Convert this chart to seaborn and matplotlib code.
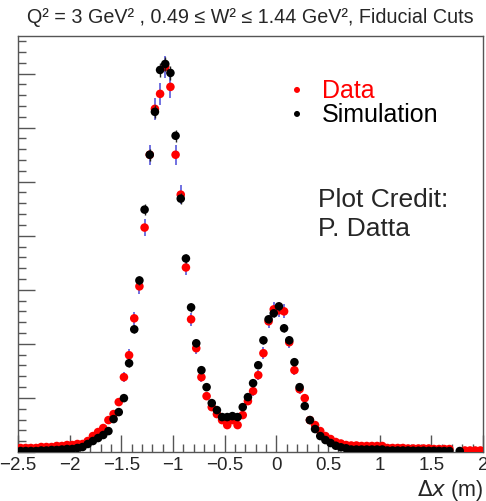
import numpy as np
import pandas as pd
import matplotlib
matplotlib.use("Agg")
import matplotlib.pyplot as plt
import seaborn as sns
from matplotlib.ticker import MultipleLocator, FuncFormatter

# Delta-x histogram, 0.05 m bins from -2.5 to 2.0 m (bin centres)
bin_centers = np.round(-2.475 + 0.05 * np.arange(90), 3)

# counts (arbitrary units, nan = empty bin)
nan = np.nan
data_counts = [
    74, 74, 74, 74, 92, 92, 92, 111, 111, 129,
    129, 148, 148, 203, 295, 369, 443, 590, 701, 923,
    1384, 1790, 2472, 3063, 4151, 5498, 6347, 6624, 7122, 6753,
    5498, 4760, 3413, 2454, 1919, 1384, 1033, 830, 701, 590,
    498, 590, 498, 683, 941, 1125, 1421, 1827, 2417, 2638,
    2620, 2601, 2030, 1513, 1162, 996, 590, 498, 387, 295,
    240, 185, 157, 129, 120, 120, 111, 111, 111, 111,
    111, 74, 74, 74, 74, 65, 65, 65, 65, 65,
    55, 55, 55, 55, nan, nan, 28, 28, 28, 28,
]
sim_counts = [
    18, 18, 18, 18, 28, 28, 37, 37, 46, 55,
    55, 74, 92, 148, 203, 258, 314, 387, 609, 738,
    996, 1642, 2269, 3173, 4483, 5498, 6291, 7066, 7177, 7011,
    5849, 4686, 3579, 2675, 2011, 1513, 1199, 904, 775, 646,
    646, 664, 646, 830, 1015, 1273, 1605, 2066, 2454, 2565,
    2694, 2288, 2066, 1661, 1199, 849, 590, 424, 295, 221,
    166, 116, 87, 68, 46, 46, 46, 46, 46, 46,
    46, 28, 28, 28, 28, 28, 24, 24, 24, 22,
    22, 20, 18, 18, nan, 18, nan, nan, nan, nan,
]

df = pd.DataFrame({"dx": bin_centers, "Data": data_counts, "Simulation": sim_counts})
# statistical error bars (scaled Poisson)
df["data_err"] = 2.5 * np.sqrt(df["Data"])
df["sim_err"] = 1.5 * np.sqrt(df["Simulation"])

sns.set_style("ticks")
plt.rcParams['font.family'] = ['Liberation Sans', 'DejaVu Sans']
plt.rcParams['mathtext.fontset'] = 'dejavusans'

fig = plt.figure(figsize=(4.86, 5.02), dpi=100)
ax = fig.add_axes([18 / 486, 49 / 502, 465 / 486, 416 / 502])

ax.errorbar(df["dx"], df["Data"], yerr=df["data_err"], fmt='none',
            ecolor='#4a4ad8', elinewidth=1.1, zorder=2)
sns.scatterplot(data=df, x="dx", y="Data", color='#ff0000', s=38,
                edgecolor='none', ax=ax, zorder=3, label='Data')
ax.errorbar(df["dx"], df["Simulation"], yerr=df["sim_err"], fmt='none',
            ecolor='#222222', elinewidth=1.0, zorder=4)
sns.scatterplot(data=df, x="dx", y="Simulation", color='black', s=38,
                edgecolor='none', ax=ax, zorder=5, label='Simulation')

ax.set_xlim(-2.5, 2.0)
ax.set_ylim(0, 7694)
ax.xaxis.set_major_locator(MultipleLocator(0.5))
ax.xaxis.set_minor_locator(MultipleLocator(0.1))
ax.xaxis.set_major_formatter(FuncFormatter(lambda v, p: f"{v:g}".replace('-', '\u2212')))
ax.yaxis.set_major_locator(MultipleLocator(1000))
ax.yaxis.set_minor_locator(MultipleLocator(200))
ax.tick_params(which='major', direction='in', length=12, width=1,
               color='#555555', labelsize=13.5, pad=3)
ax.tick_params(which='minor', direction='in', length=6, width=1,
               color='#555555')
ax.tick_params(axis='y', which='both', labelleft=False)
for sp in ax.spines.values():
    sp.set_color('#555555')
    sp.set_linewidth(1.0)

ax.set_ylabel('')
ax.set_xlabel(r'$\Delta x$ (m)', loc='right', fontsize=15.5, labelpad=3)
ax.set_title('Q² = 3 GeV² , 0.49 ≤ W² ≤ 1.44 GeV², Fiducial Cuts',
             fontsize=14.2, pad=10)

leg = ax.legend(loc='upper left', bbox_to_anchor=(272 / 486, 1 - 66 / 502),
                bbox_transform=fig.transFigure, frameon=False, fontsize=18,
                borderpad=0, handlelength=1.0, handletextpad=0.5,
                labelspacing=0.0, markerscale=0.7,
                labelcolor=['#ff0000', 'black'])

ax.text(0.645, 0.592, 'Plot Credit:', transform=ax.transAxes,
        fontsize=19, va='baseline', ha='left')
ax.text(0.645, 0.522, 'P. Datta', transform=ax.transAxes,
        fontsize=19, va='baseline', ha='left')

fig.savefig('out.png', dpi=100)
